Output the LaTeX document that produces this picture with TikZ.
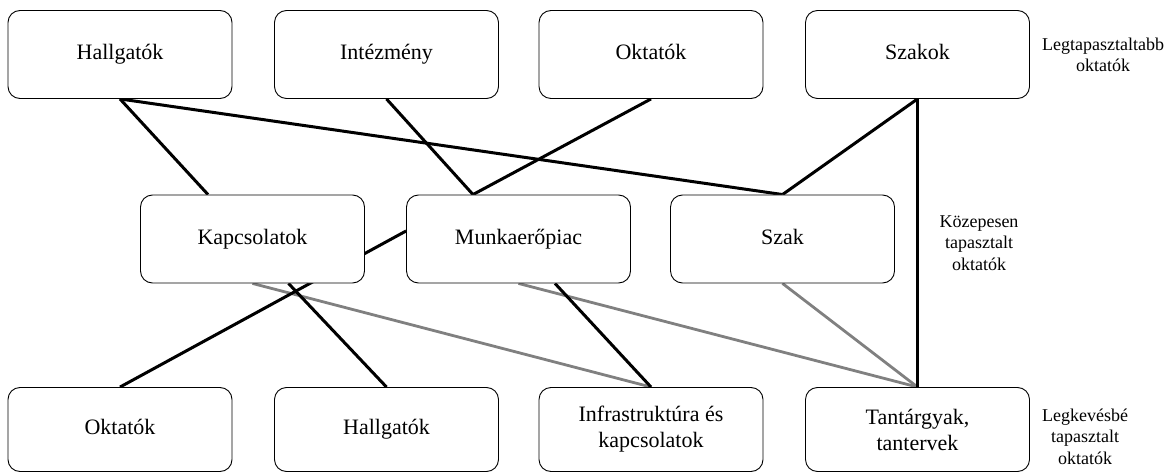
\documentclass[tikz,border=0pt]{standalone}
\usepackage{fontspec}
\setmainfont{Liberation Serif}
\usetikzlibrary{backgrounds}
\definecolor{linegray}{RGB}{128,128,128}
\begin{document}
\begin{tikzpicture}[x=1pt,y=-1pt,
  box/.style={draw, line width=0.9pt, rounded corners=12pt, fill=white,
    minimum width=224pt, minimum height=88pt, inner sep=0pt, align=center,
    font=\fontsize{22}{26}\selectfont},
  oneline/.style={text height=15pt, text depth=5pt},
  lowbox/.style={box, minimum height=84pt},
  side/.style={align=center, inner sep=0pt, font=\fontsize{18}{21.5}\selectfont},
  strong/.style={line width=3pt, draw=black},
  soft/.style={line width=2.8pt, draw=linegray}]
\useasboundingbox (0,0) rectangle (1172,473);

% top row
\node[box,oneline] (tHall)   at (120,54.5)   {Hallgatók};
\node[box,oneline] (tInt)    at (386.5,54.5) {Intézmény};
\node[box,oneline] (tOkt)    at (651,54.5)   {Oktatók};
\node[box,oneline] (tSzakok) at (917.5,54.5) {Szakok};

% middle row
\node[box,oneline] (mKap)   at (252.5,239) {Kapcsolatok};
\node[box,oneline] (mMunka) at (518.5,239) {Munkaerőpiac};
\node[box,oneline] (mSzak)  at (782.5,239) {Szak};

% bottom row
\node[lowbox,oneline] (bOkt)   at (120,429.5)   {Oktatók};
\node[lowbox,oneline] (bHall)  at (386.5,429.5) {Hallgatók};
\node[lowbox] (bInfra) at (651,429.5)   {\rule{0pt}{6pt}Infrastruktúra és\\kapcsolatok};
\node[lowbox] (bTant)  at (917.5,429.5) {\rule{0pt}{6pt}Tantárgyak,\\tantervek};

% level labels
\node[side] (lTop) at (1103,55)    {Legtapasztaltabb\\oktatók};
\node[side] (lMid) at (979,243)    {Közepesen\\tapasztalt\\oktatók};
\node[side] (lBot) at (1085,436.5) {Legkevésbé\\tapasztalt\\oktatók};

\begin{scope}[on background layer]
  % weaker links
  \draw[soft] (mKap.south)   -- (bInfra.north);
  \draw[soft] (mMunka.south) -- (bTant.north);
  \draw[soft] (mSzak.south)  -- (bTant.north);
  % strong links
  \draw[strong] (tHall.south) -- ([xshift=-44.5pt]mKap.north);
  \draw[strong] (tHall.south) -- (mSzak.north);
  \draw[strong] (tInt.south)  -- ([xshift=-45.5pt]mMunka.north);
  \draw[strong] (tOkt.south)  -- ([xshift=-45.5pt]mMunka.north);
  \draw[strong] (tSzakok.south) -- (mSzak.north);
  \draw[strong] (tSzakok.south) -- (bTant.north);
  \draw[strong] (bOkt.north)  -- ([yshift=8pt]mMunka.west);
  \draw[strong] (bHall.north) -- ([xshift=36pt]mKap.south);
  \draw[strong] (bInfra.north) -- ([xshift=36.5pt]mMunka.south);
\end{scope}
\end{tikzpicture}
\end{document}
